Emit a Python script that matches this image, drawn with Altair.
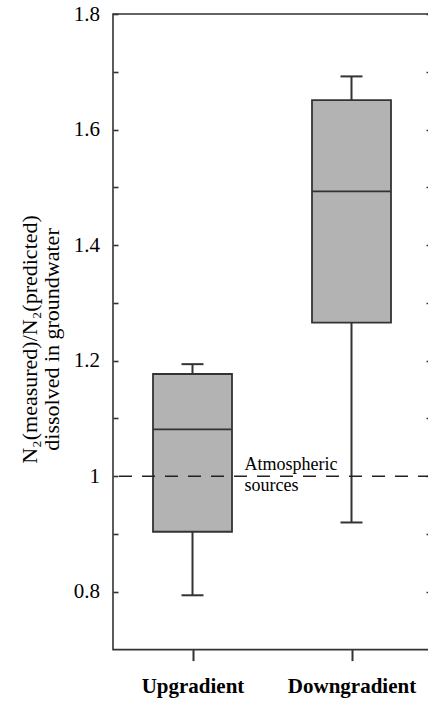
import altair as alt
import pandas as pd

# ---- data ----
categories = ["Upgradient", "Downgradient"]
whisker_low = [0.794, 0.920]
q1_values = [0.904, 1.266]
median_values = [1.081, 1.493]
q3_values = [1.177, 1.651]
whisker_high = [1.194, 1.692]

y_tick_values = [0.8, 0.9, 1.0, 1.1, 1.2, 1.3, 1.4, 1.5, 1.6, 1.7, 1.8]
reference_level = [1.0]
reference_text = ["Atmospheric\nsources"]
reference_anchor = ["Upgradient"]

y_title = ["N\u2082(measured)/N\u2082(predicted)", "dissolved in groundwater"]

df = pd.DataFrame({
    "category": categories,
    "low": whisker_low,
    "q1": q1_values,
    "median": median_values,
    "q3": q3_values,
    "high": whisker_high,
})
ref_df = pd.DataFrame({"level": reference_level, "label": reference_text,
                       "category": reference_anchor})

FONT = "Liberation Serif"
INK = "#333333"

yscale = alt.Scale(domain=[0.7, 1.8], nice=False, zero=False)
xscale = alt.Scale(type="point", domain=categories, padding=0.5)

x_axis = alt.Axis(orient="bottom", domain=False, tickSize=11, tickWidth=2,
                  tickColor=INK, labelFontSize=21, labelFontWeight="bold",
                  labelPadding=15, labelAngle=0, title=None, labelColor="black",
                  labelFont=FONT)

left_axis = alt.Axis(
    orient="left", values=y_tick_values, format="~g",
    labelExpr="round(datum.value*10) % 2 == 0 ? datum.label : ''",
    offset=-5, tickSize=5, tickWidth=1.6, tickColor=INK, domain=False, grid=False,
    labelPadding=13.5, labelFontSize=21, labelColor="black", labelFont=FONT,
    title=y_title, titleFontSize=22, titleFontWeight="normal", titleFont=FONT,
    titleColor="black", titleAngle=270, titleX=-82, titleY=325,
    titleAlign="center", titleBaseline="alphabetic", titleLineHeight=22,
)

right_axis = alt.Axis(
    orient="right", values=y_tick_values, labels=False, offset=-5, tickSize=5,
    tickWidth=1.6, tickColor=INK, domain=False, grid=False, title=None,
)

base = alt.Chart(df).encode(x=alt.X("category:N", scale=xscale, axis=x_axis))

whisker = base.mark_rule(color=INK, strokeWidth=2).encode(
    y=alt.Y("low:Q", scale=yscale, axis=left_axis), y2="high:Q")
box = base.mark_bar(size=79, fill="#b3b3b3", stroke=INK, strokeWidth=1.8).encode(
    y=alt.Y("q1:Q", scale=yscale), y2="q3:Q")
med = base.mark_tick(size=79, thickness=1.8, color=INK, opacity=1).encode(
    y=alt.Y("median:Q", scale=yscale))
cap_low = base.mark_tick(size=22, thickness=2, color=INK, opacity=1).encode(
    y=alt.Y("low:Q", scale=yscale))
cap_high = base.mark_tick(size=22, thickness=2, color=INK, opacity=1).encode(
    y=alt.Y("high:Q", scale=yscale))

boxes = alt.layer(whisker, box, med, cap_low, cap_high)

ref_rule = alt.Chart(ref_df).mark_rule(
    strokeDash=[13, 10], color="#222222", strokeWidth=1.5
).encode(y=alt.Y("level:Q", scale=yscale, axis=right_axis))

ref_text = alt.Chart(ref_df).mark_text(
    align="left", baseline="alphabetic", dx=52, dy=-6, fontSize=18,
    font=FONT, color="black", lineBreak="\n", lineHeight=20.7
).encode(
    x=alt.X("category:N", scale=xscale, axis=x_axis),
    y=alt.Y("level:Q", scale=yscale),
    text="label:N",
)

ref_layer = alt.layer(ref_rule, ref_text)

chart = alt.layer(boxes, ref_layer).resolve_scale(y="independent").properties(
    width=318, height=635.6,
    padding={"left": 113, "top": 14, "right": -3, "bottom": 52.4},
    autosize="none",
    background="white",
).configure(
    font=FONT,
    view=alt.ViewConfig(stroke=INK, strokeWidth=1.6),
)

chart.save("out.html", embed_options={"renderer": "svg", "actions": False})
